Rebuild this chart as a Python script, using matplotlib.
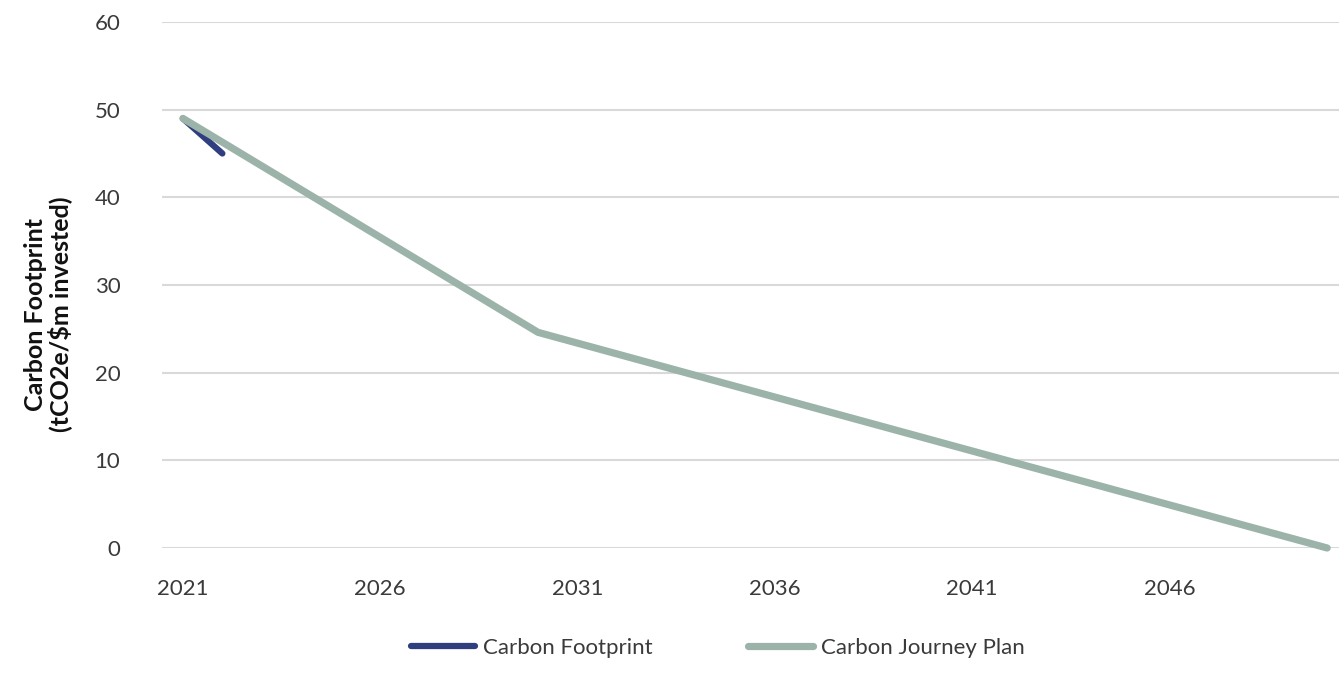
import matplotlib.pyplot as plt

# data
plan_years = [2021, 2030, 2050]
plan_values = [49, 24.6, 0]
footprint_years = [2021, 2022]
footprint_values = [49, 45]
x_ticks = [2021, 2026, 2031, 2036, 2041, 2046]
y_ticks = [0, 10, 20, 30, 40, 50, 60]

navy = "#2f3e7e"
sage = "#9bb3a8"
grid_col = "#d9d9d9"
text_col = "#3a3a3a"

plt.rcParams['font.family'] = ['Lato', 'DejaVu Sans']

fig = plt.figure(figsize=(13.39, 6.89), dpi=100)
ax = fig.add_axes([162 / 1339, 1 - 548 / 689, 1 - 162 / 1339, (548 - 22) / 689])

ax.plot(plan_years, plan_values, color=sage, lw=5.2, solid_capstyle='round',
        solid_joinstyle='round', label="Carbon Journey Plan", zorder=3, clip_on=False)
ax.plot(footprint_years, footprint_values, color=navy, lw=4.5, solid_capstyle='round',
        label="Carbon Footprint", zorder=2)

ax.set_xlim(2020.47, 2050.3)
ax.set_ylim(0, 60)
ax.set_yticks(y_ticks)
ax.set_xticks(x_ticks)
ax.grid(axis='y', color=grid_col, lw=1.5)
ax.set_axisbelow(True)
for s in ax.spines.values():
    s.set_visible(False)
ax.tick_params(axis='both', length=0, labelsize=16, labelcolor=text_col)
ax.tick_params(axis='y', pad=30)
ax.tick_params(axis='x', pad=22)

fig.text(48 / 1339, 1 - 314 / 689, "Carbon Footprint\n(tCO2e/$m invested)", rotation=90,
         ha='center', va='center', fontsize=18, fontweight='bold', color="#111111",
         linespacing=1.0)

handles, labels = ax.get_legend_handles_labels()
leg = fig.legend(handles[::-1], labels[::-1], loc='center', bbox_to_anchor=(0.536, 1 - 648 / 689),
                 ncol=2, frameon=False, handlelength=2.9, handletextpad=0.35,
                 columnspacing=4.3, prop={'size': 16})
for t in leg.get_texts():
    t.set_color(text_col)

fig.savefig("out.png", dpi=100)
